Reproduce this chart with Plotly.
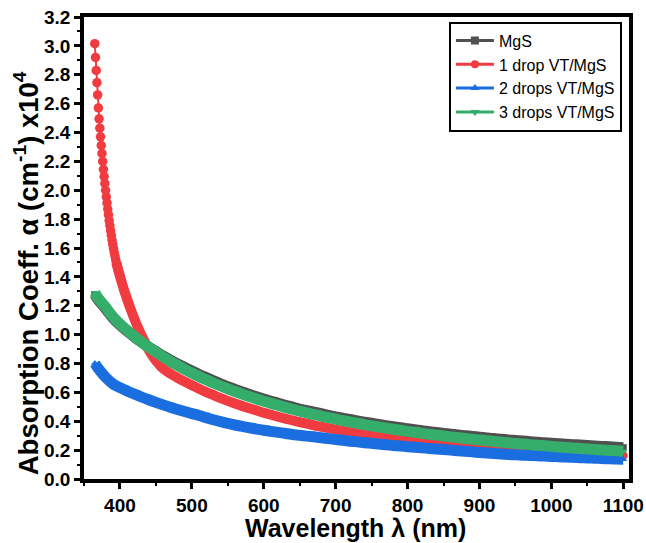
import plotly.graph_objects as go

# Wavelength grids (nm)
wl = [365, 370] + list(range(380, 1101, 10))
wl_red_head = list(range(365, 401))
wl_red_body = [395, 400, 405, 410, 415, 420, 425, 430, 435, 440, 445] + list(range(450, 1101, 10))

# Absorption coefficient (x10^4 cm^-1)
mgs = [1.278, 1.24, 1.18, 1.117, 1.067, 1.025, 0.985, 0.948, 0.914, 0.883,
       0.852, 0.824, 0.797, 0.772, 0.748, 0.724, 0.702, 0.68, 0.659, 0.64,
       0.621, 0.603, 0.586, 0.569, 0.554, 0.539, 0.525, 0.511, 0.498, 0.485,
       0.474, 0.463, 0.452, 0.441, 0.431, 0.421, 0.412, 0.403, 0.394, 0.386,
       0.378, 0.37, 0.363, 0.355, 0.348, 0.341, 0.335, 0.328, 0.322, 0.316,
       0.311, 0.305, 0.3, 0.295, 0.29, 0.285, 0.28, 0.276, 0.271, 0.267,
       0.263, 0.259, 0.255, 0.251, 0.248, 0.244, 0.241, 0.238, 0.235, 0.232,
       0.229, 0.226, 0.223, 0.22, 0.217]

drop1_head = [3.015, 2.92, 2.83, 2.745, 2.66, 2.57, 2.495, 2.43, 2.37, 2.31,
              2.255, 2.2, 2.145, 2.095, 2.047, 2.0, 1.955, 1.912, 1.87, 1.83,
              1.79, 1.755, 1.72, 1.688, 1.655, 1.625, 1.597, 1.57, 1.545, 1.52,
              1.497, 1.478, 1.459, 1.441, 1.423, 1.405]
drop1_body = [1.497, 1.405, 1.32, 1.245, 1.175, 1.11, 1.05, 0.995, 0.945, 0.895,
              0.855, 0.82, 0.765, 0.73, 0.701, 0.674, 0.649, 0.625, 0.602, 0.581,
              0.5605, 0.541, 0.523, 0.506, 0.4895, 0.474, 0.459, 0.445, 0.431, 0.418,
              0.406, 0.394, 0.383, 0.372, 0.362, 0.352, 0.342, 0.333, 0.3245, 0.316,
              0.308, 0.3, 0.293, 0.2855, 0.279, 0.272, 0.2655, 0.2595, 0.2535, 0.248,
              0.242, 0.237, 0.2315, 0.2265, 0.2215, 0.217, 0.2125, 0.208, 0.2035, 0.1995,
              0.1955, 0.1915, 0.188, 0.184, 0.1805, 0.177, 0.174, 0.1705, 0.1675, 0.1645,
              0.161, 0.1585, 0.156, 0.155, 0.155, 0.157, 0.162]

drop2 = [0.80, 0.765, 0.705, 0.66, 0.633, 0.61, 0.5885, 0.568, 0.549, 0.531,
         0.5135, 0.497, 0.482, 0.467, 0.453, 0.44, 0.425, 0.41, 0.397, 0.385,
         0.374, 0.364, 0.355, 0.346, 0.338, 0.33, 0.323, 0.315, 0.308, 0.303,
         0.297, 0.292, 0.286, 0.2795, 0.2735, 0.268, 0.262, 0.257, 0.2517, 0.2466,
         0.2418, 0.237, 0.2325, 0.228, 0.224, 0.2198, 0.2158, 0.2119, 0.2081, 0.2044,
         0.2, 0.196, 0.192, 0.188, 0.184, 0.18, 0.1765, 0.173, 0.17, 0.1675,
         0.165, 0.1635, 0.161, 0.159, 0.1565, 0.154, 0.152, 0.15, 0.148, 0.146,
         0.144, 0.142, 0.14, 0.138, 0.137]

drop3 = [1.29, 1.25, 1.19, 1.125, 1.073, 1.029, 0.988, 0.949, 0.913, 0.879,
         0.846, 0.816, 0.787, 0.76, 0.7345, 0.71, 0.687, 0.665, 0.644, 0.625,
         0.606, 0.588, 0.571, 0.554, 0.539, 0.524, 0.51, 0.496, 0.483, 0.47,
         0.458, 0.447, 0.4355, 0.425, 0.4145, 0.4045, 0.395, 0.386, 0.377, 0.3685,
         0.3605, 0.3525, 0.345, 0.3375, 0.33, 0.3235, 0.3165, 0.31, 0.304, 0.298,
         0.292, 0.2865, 0.281, 0.2755, 0.2705, 0.2655, 0.2605, 0.2555, 0.251, 0.2465,
         0.2425, 0.238, 0.234, 0.23, 0.226, 0.222, 0.2185, 0.215, 0.2115, 0.208,
         0.205, 0.2015, 0.198, 0.1955, 0.192]

names = ["MgS", "1 drop VT/MgS", "2 drops VT/MgS", "3 drops VT/MgS"]
colors = ["#505050", "#F03C41", "#1B6EE0", "#35AD6B"]
symbols = ["square", "circle", "triangle-up", "triangle-down"]

FONT = "Arial, 'Liberation Sans', sans-serif"
BAND = 11

fig = go.Figure()

# thick bands of densely packed symbols
band = dict(mode="lines+markers", line_shape="spline", showlegend=False, hoverinfo="skip")
fig.add_trace(go.Scatter(x=wl, y=mgs, line=dict(color=colors[0], width=BAND),
                         marker=dict(symbol=symbols[0], size=7, color=colors[0]), **band))
fig.add_trace(go.Scatter(x=wl_red_head, y=drop1_head, mode="lines+markers", showlegend=False,
                         line=dict(color=colors[1], width=2), hoverinfo="skip",
                         marker=dict(symbol=symbols[1], size=9.5, color=colors[1])))
fig.add_trace(go.Scatter(x=wl_red_body, y=drop1_body, line=dict(color=colors[1], width=BAND - 1),
                         marker=dict(symbol=symbols[1], size=9, color=colors[1]), **band))
fig.add_trace(go.Scatter(x=wl, y=drop2, line=dict(color=colors[2], width=BAND),
                         marker=dict(symbol=symbols[2], size=7, color=colors[2]), **band))
fig.add_trace(go.Scatter(x=wl, y=drop3, line=dict(color=colors[3], width=BAND),
                         marker=dict(symbol=symbols[3], size=7, color=colors[3]), **band))

# legend entries
for n, c, s in zip(names, colors, symbols):
    fig.add_trace(go.Scatter(x=[None], y=[None], mode="lines+markers", name=n,
                             line=dict(color=c, width=3),
                             marker=dict(symbol=s, size=8, color=c)))

axis_common = dict(
    showline=True, linewidth=3.5, linecolor="black", mirror=True,
    ticks="outside", ticklen=6, tickwidth=3, tickcolor="black",
    showgrid=False, zeroline=False, automargin=False,
    tickfont=dict(family=FONT, size=19, color="black", weight="bold"),
)

fig.update_xaxes(
    range=[350, 1108], tick0=400, dtick=100,
    minor=dict(ticks="outside", ticklen=3, tickwidth=2, tickcolor="black", dtick=50, tick0=400),
    **axis_common,
)
fig.update_yaxes(
    range=[0, 3.2], tick0=0, dtick=0.2, tickformat=".1f",
    minor=dict(ticks="outside", ticklen=3, tickwidth=2, tickcolor="black", dtick=0.1, tick0=0),
    **axis_common,
)

# axis titles
fig.add_annotation(text="Wavelength λ (nm)", xref="paper", yref="paper",
                   x=0.499, y=-0.107, xanchor="center", yanchor="middle", showarrow=False,
                   font=dict(family=FONT, size=25, color="black", weight="bold"))
fig.add_annotation(text="Absorption Coeff. α (cm<sup>-1</sup>) x10<sup>4</sup>",
                   xref="paper", yref="paper", x=-0.104, y=0.446, textangle=-90,
                   xanchor="center", yanchor="middle", showarrow=False,
                   font=dict(family=FONT, size=27.5, color="black", weight="bold"))

fig.update_layout(
    width=646, height=543,
    margin=dict(l=84, r=17, t=17, b=64),
    paper_bgcolor="white", plot_bgcolor="white",
    font=dict(family=FONT, color="black"),
    legend=dict(x=0.987, y=0.99, xanchor="right", yanchor="top",
                bgcolor="white", bordercolor="black", borderwidth=2,
                font=dict(family=FONT, size=16, color="black"),
                tracegroupgap=0, itemwidth=38),
)

fig.write_html("out.html")
